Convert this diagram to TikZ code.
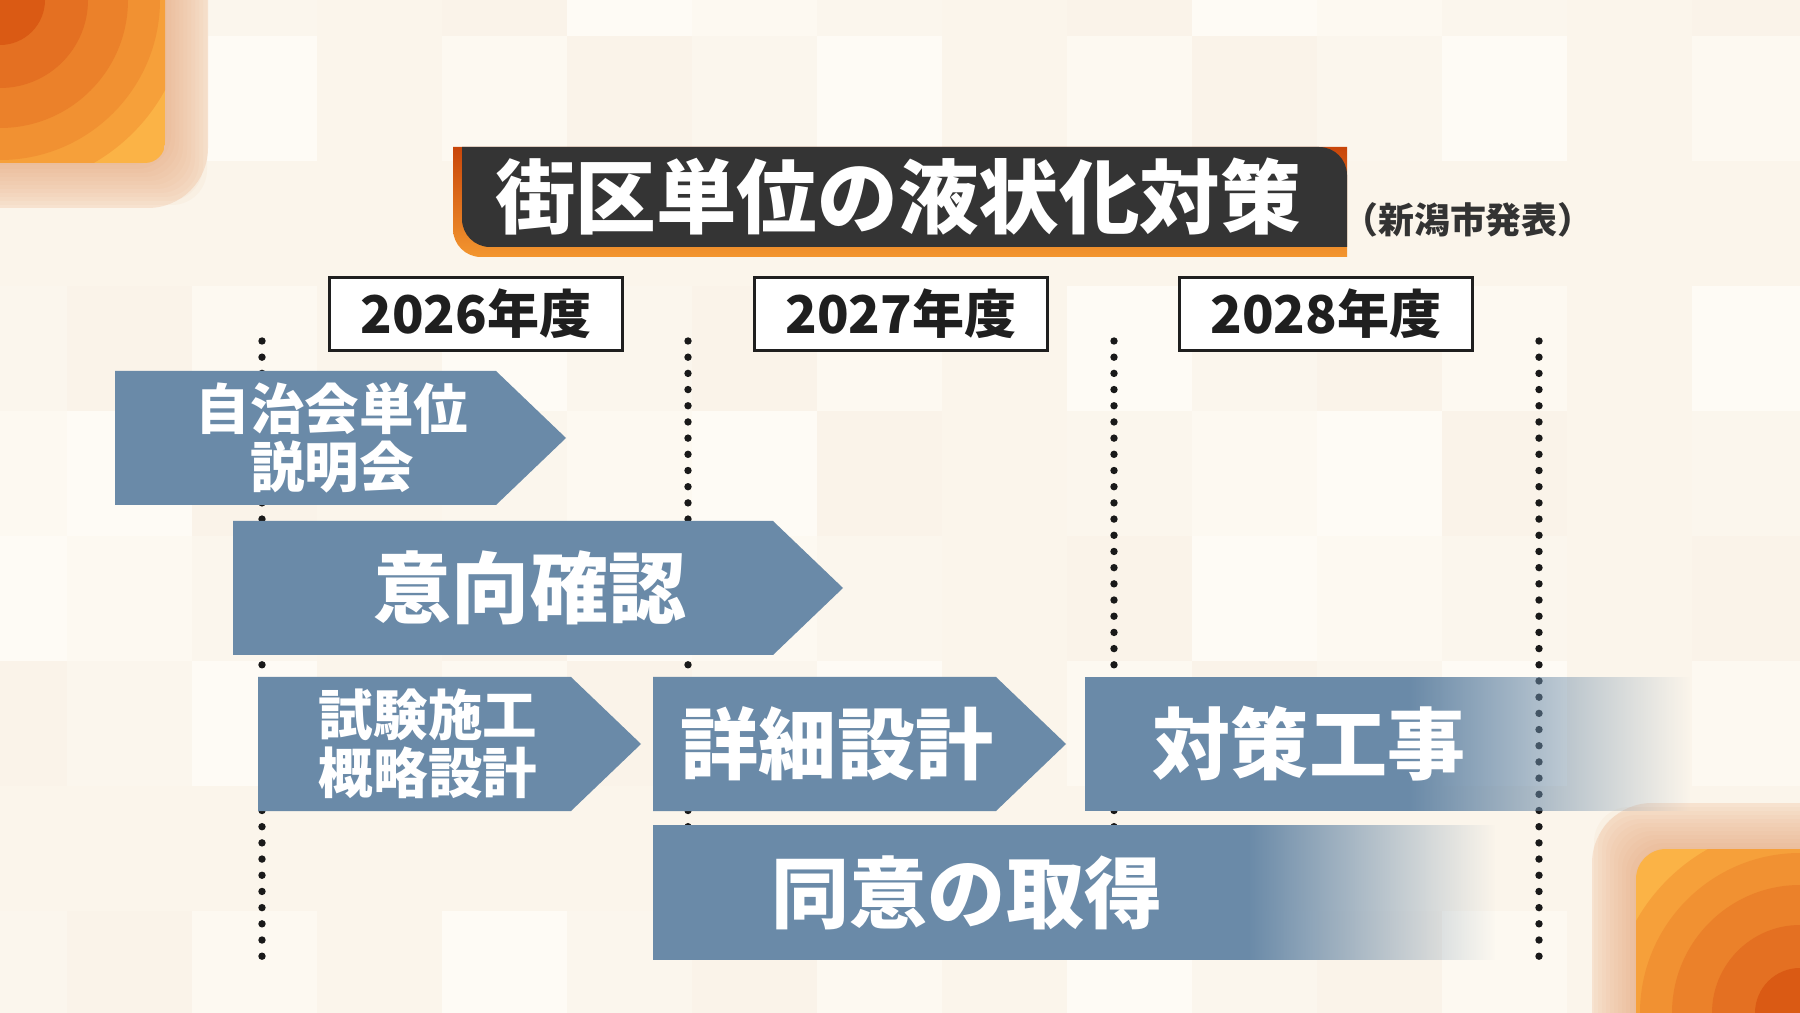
\documentclass[tikz,border=0pt]{standalone}
\usepackage{fontspec}
\setmainfont{Noto Sans CJK JP}
\usetikzlibrary{fadings}

\definecolor{bg0}{RGB}{254,251,245}
\definecolor{bg1}{RGB}{251,246,237}
\definecolor{bg2}{RGB}{250,243,233}
\definecolor{bg3}{RGB}{253,249,241}
\definecolor{bg4}{RGB}{251,245,235}
\definecolor{phaseblue}{RGB}{106,138,168}
\definecolor{titledark}{RGB}{52,52,52}
\definecolor{ordark}{RGB}{200,70,10}
\definecolor{orlight}{RGB}{243,150,47}
\definecolor{peachlight}{RGB}{247,226,207}
\definecolor{peachdark}{RGB}{228,160,112}
\definecolor{ora0}{RGB}{251,179,70}
\definecolor{ora1}{RGB}{246,160,58}
\definecolor{ora2}{RGB}{241,145,50}
\definecolor{ora3}{RGB}{235,129,42}
\definecolor{ora4}{RGB}{228,112,34}
\definecolor{ora5}{RGB}{218,90,20}

\tikzfading[name=bandfade, left color=transparent!0, right color=transparent!100]

\begin{document}
\begin{tikzpicture}[
    x=0.01cm, y=-0.01cm,
    phase/.style={fill=phaseblue},
    biglabel/.style={text=white, inner sep=0pt, font=\bfseries\fontsize{22.2}{26}\selectfont},
    smalllabel/.style={text=white, inner sep=0pt, align=center, font=\bfseries\fontsize{15.5}{16.4}\selectfont},
    yearbox/.style={draw=black!88, line width=0.85pt, fill=white, minimum width=2.93cm, minimum height=0.72cm, inner sep=0pt, text=black!88, font=\bfseries\fontsize{14.8}{17}\selectfont},
    dots/.style={draw=black!90, line width=0.074cm, line cap=round, dash pattern=on 0pt off 0.1618cm}
]
\useasboundingbox (0,0) rectangle (1800,1013);
\clip (0,0) rectangle (1800,1013);

% checkered backdrop
\foreach \i in {0,...,14}{
  \foreach \j in {0,...,8}{
    \pgfmathtruncatemacro{\tone}{mod(3*\i+7*\j+\i*\j,5)}
    \fill[bg\tone] ({-58+125*\i},{-89+125*\j}) rectangle ++(125,125);
  }
}

% orange corner tiles
\fill[peachlight, rounded corners=0.6cm] (-80,-80) rectangle (208,208);
\foreach \d in {2,6,...,42}
  \fill[peachdark, opacity=0.06, rounded corners=0.35cm] (-80,-80) rectangle ({165+\d},{163+\d});
\begin{scope}
  \clip[rounded corners=0.2cm] (-80,-80) rectangle (165,163);
  \fill[ora0] (-1,-1) rectangle (165,163);
  \foreach \r/\c in {188/ora1,160/ora2,128/ora3,88/ora4,45/ora5}
    \fill[\c] (0,0) circle[radius=\r];
\end{scope}

\fill[peachlight, rounded corners=0.6cm] (1592,803) rectangle (1880,1093);
\foreach \d in {2,6,...,42}
  \fill[peachdark, opacity=0.06, rounded corners=0.35cm] ({1636-\d},{849-\d}) rectangle (1880,1093);
\begin{scope}
  \clip[rounded corners=0.3cm] (1636,849) rectangle (1880,1093);
  \fill[ora0] (1636,849) rectangle (1801,1014);
  \foreach \r/\c in {188/ora1,160/ora2,128/ora3,88/ora4,45/ora5}
    \fill[\c] (1800,1013) circle[radius=\r];
\end{scope}

% title plate
\shade[top color=ordark, bottom color=orlight] (453,147) -- (1347,147) -- (1347,257) -- (481,257) arc[start angle=90, end angle=180, radius=28] -- cycle;
\fill[titledark] (462,147) -- (1319,147) arc[start angle=270, end angle=360, radius=28] -- (1347,247) -- (490,247) arc[start angle=90, end angle=180, radius=28] -- cycle;
\node[text=white, inner sep=0pt, font=\bfseries\fontsize{22.9}{27}\selectfont] (title) at (898,197) {街区単位の液状化対策};
\node[text=black!80, inner sep=0pt, font=\bfseries\fontsize{10.2}{12}\selectfont] (source) at (1468,220) {（新潟市発表）};

% fiscal years
\node[yearbox] (fy2026) at (476,314) {2026年度};
\node[yearbox] (fy2027) at (901,314) {2027年度};
\node[yearbox] (fy2028) at (1326,314) {2028年度};

% year dividers
\foreach \x [count=\k] in {262,688,1114,1539}{
  \coordinate (top\k) at (\x,341);
  \coordinate (bot\k) at (\x,972);
  \draw[dots] (top\k) -- (bot\k);
}

% phases
\fill[phase] (115,371) -- (496,371) -- (566,438) -- (496,505) -- (115,505) -- cycle;
\fill[phase] (233,521) -- (773,521) -- (843,588) -- (773,655) -- (233,655) -- cycle;
\fill[phase] (258,677) -- (571,677) -- (641,744) -- (571,811) -- (258,811) -- cycle;
\fill[phase] (653,677) -- (996,677) -- (1066,744) -- (996,811) -- (653,811) -- cycle;
\fill[phase] (1085,677) rectangle (1410,811);
\fill[phase, path fading=bandfade] (1408,677) rectangle (1690,811);
\fill[phase] (653,825) rectangle (1250,960);
\fill[phase, path fading=bandfade] (1248,825) rectangle (1495,960);

\node[smalllabel] (briefing) at (332,438) {自治会単位\\説明会};
\node[biglabel] (survey) at (530,588) {意向確認};
\node[smalllabel] (trial) at (428,744) {試験施工\\概略設計};
\node[biglabel] (design) at (837,744) {詳細設計};
\node[biglabel] (works) at (1309,744) {対策工事};
\node[biglabel] (consent) at (967,893) {同意の取得};
\end{tikzpicture}
\end{document}
